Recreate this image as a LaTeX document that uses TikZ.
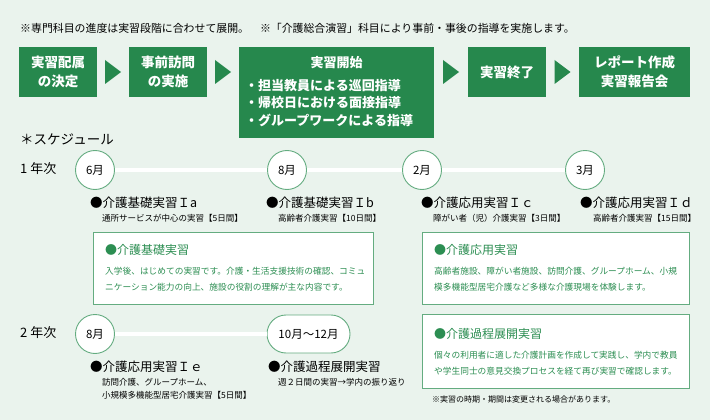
\documentclass[tikz,border=0pt]{standalone}
\usepackage{fontspec}
\setmainfont{Noto Sans CJK JP}
\usetikzlibrary{calc}

\definecolor{bgmint}{RGB}{234,243,237}
\definecolor{boxgreen}{RGB}{38,136,77}
\definecolor{ringgreen}{RGB}{100,172,128}
\definecolor{textgreen}{RGB}{44,142,82}

\tikzset{
  flowbox/.style={fill=boxgreen,text=white,inner sep=0pt,align=center,minimum height=50pt,font=\bfseries\fontsize{13.5}{18.5}\selectfont},
  flowtext/.style={text=white,inner sep=0pt,align=left,font=\bfseries\fontsize{13}{17.5}\selectfont},
  month/.style={circle,draw=ringgreen,fill=white,line width=.9pt,minimum size=39pt,inner sep=0pt,font=\fontsize{11.5}{13}\selectfont},
  monthpill/.style={draw=ringgreen,fill=white,line width=.9pt,rounded corners=19pt,minimum width=83pt,minimum height=38pt,inner sep=0pt,font=\fontsize{11.5}{13}\selectfont},
  timeline/.style={white,line width=3.5pt},
  yearlabel/.style={anchor=west,inner sep=0pt,font=\fontsize{13}{15}\selectfont},
  course/.style={anchor=west,inner sep=0pt,font=\fontsize{12.5}{15}\selectfont},
  coursenote/.style={anchor=west,align=left,inner sep=0pt,font=\fontsize{8.5}{13}\selectfont},
  infobox/.style={draw=ringgreen,fill=white,line width=.9pt},
  infotitle/.style={anchor=west,inner sep=0pt,text=textgreen,font=\fontsize{12}{14}\selectfont},
  infotext/.style={anchor=west,align=left,inner sep=0pt,text=textgreen,font=\fontsize{8.7}{15.5}\selectfont}
}
\newcommand\flowtri[1]{\fill[boxgreen] (#1) ++(-8,-12) -- ++(16,12) -- ++(-16,12) -- cycle;}

\begin{document}
\begin{tikzpicture}[x=1pt,y=-1pt]
\fill[bgmint] (0,0) rectangle (710,420);
\useasboundingbox (0,0) rectangle (710,420);

\node[anchor=west,inner sep=0pt,font=\fontsize{10.9}{12}\selectfont] (topnote) at (20,28)
  {※専門科目の進度は実習段階に合わせて展開。　※「介護総合演習」科目により事前・事後の指導を実施します。};

% flow of the practicum
\node[flowbox,minimum width=78pt] (b1) at (58,72) {実習配属\\の決定};
\node[flowbox,minimum width=78pt] (b2) at (168,72) {事前訪問\\の実施};
\node[flowbox,minimum width=195pt,minimum height=91pt] (b3) at (336.5,92.5) {};
\node[flowbox,minimum width=78pt] (b4) at (507,72) {実習終了};
\node[flowbox,minimum width=111pt] (b5) at (634.5,72) {レポート作成\\実習報告会};
\node[flowtext] (b3head) at (336.5,63) {実習開始};
\node[flowtext,anchor=west] (b3list) at (245,103) {・担当教員による巡回指導\\・帰校日における面接指導\\・グループワークによる指導};
\flowtri{$(b1.east)!.5!(b2.west)$}
\flowtri{$(b2.east)!.5!(b2.east-|b3.west)$}
\flowtri{$(b4.west-|b3.east)!.5!(b4.west)$}
\flowtri{$(b4.east)!.5!(b5.west)$}

\node[anchor=west,inner sep=0pt,font=\fontsize{13.5}{15}\selectfont] (sched) at (20,139) {＊スケジュール};

% 1st year
\node[yearlabel] (y1) at (20,169) {1 年次};
\node[month] (m1a) at (95,170) {6月};
\node[month] (m1b) at (287,170) {8月};
\node[month] (m1c) at (422,170) {2月};
\node[month] (m1d) at (585,170) {3月};
\draw[timeline] (m1a) -- (m1b);
\draw[timeline] (m1b) -- (m1c);
\draw[timeline] (m1c) -- (m1d);

\node[course] (ia) at (90,203) {●介護基礎実習Ｉa};
\node[coursenote] (ianote) at (102,218) {通所サービスが中心の実習【5日間】};
\node[course] (ib) at (266,203) {●介護基礎実習Ｉb};
\node[coursenote] (ibnote) at (278,218) {高齢者介護実習【10日間】};
\node[course] (ic) at (421,203) {●介護応用実習Ｉｃ};
\node[coursenote] (icnote) at (433,218) {障がい者（児）介護実習【3日間】};
\node[course] (id) at (580,203) {●介護応用実習Ｉｄ};
\node[coursenote] (idnote) at (593,218) {高齢者介護実習【15日間】};

\draw[infobox] (93,232) rectangle (373,304);
\node[infotitle] (kisotitle) at (105,250) {●介護基礎実習};
\node[infotext] (kisotext) at (105,279) {入学後、はじめての実習です。介護・生活支援技術の確認、コミュ\\ニケーション能力の向上、施設の役割の理解が主な内容です。};

\draw[infobox] (422,232) rectangle (689,304);
\node[infotitle] (oyotitle) at (434,250) {●介護応用実習};
\node[infotext] (oyotext) at (434,279) {高齢者施設、障がい者施設、訪問介護、グループホーム、小規\\模多機能型居宅介護など多様な介護現場を体験します。};

% 2nd year
\node[yearlabel] (y2) at (20,333) {2 年次};
\node[month] (m2a) at (95,334) {8月};
\node[monthpill] (m2b) at (308.5,334) {10月～12月};
\draw[timeline] (m2a) -- (m2b);

\node[course] (ie) at (90,367) {●介護応用実習Ｉｅ};
\node[coursenote] (ienote) at (102,388.5) {訪問介護、グループホーム、\\小規模多機能型居宅介護実習【5日間】};
\node[course] (katei) at (268,367) {●介護過程展開実習};
\node[coursenote] (kateinote) at (278,382) {週２日間の実習→学内の振り返り};

\draw[infobox] (422,314) rectangle (689,388);
\node[infotitle] (kateititle) at (434,334) {●介護過程展開実習};
\node[infotext] (kateitext) at (434,363) {個々の利用者に適した介護計画を作成して実践し、学内で教員\\や学生同士の意見交換プロセスを経て再び実習で確認します。};

\node[anchor=west,inner sep=0pt,font=\fontsize{8}{10}\selectfont] (endnote) at (432,399) {※実習の時期・期間は変更される場合があります。};
\end{tikzpicture}
\end{document}
